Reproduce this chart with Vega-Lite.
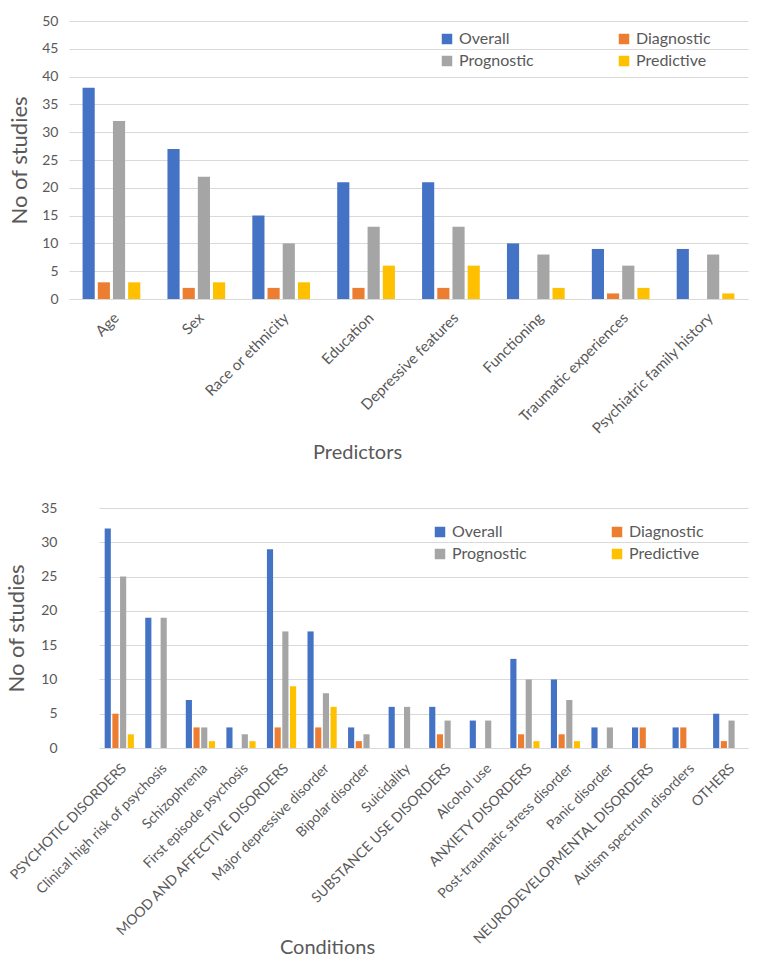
{
  "$schema": "https://vega.github.io/schema/vega-lite/v6.json",
  "padding": {"left": 5, "top": 14, "right": 8, "bottom": 5},
  "background": "#ffffff",
  "config": {
    "font": "Lato",
    "view": {"stroke": null},
    "axis": {"labelColor": "#595959", "titleColor": "#595959", "labelFont": "Lato", "titleFont": "Lato", "titleFontWeight": "normal", "gridColor": "#D9D9D9", "domainColor": "#D9D9D9", "ticks": false},
    "legend": {"labelColor": "#595959", "labelFont": "Lato", "labelFontSize": 16}
  },
  "datasets": {
    "predictors": [
      {"cat": "Age", "type": "Overall", "n": 38}, {"cat": "Age", "type": "Diagnostic", "n": 3}, {"cat": "Age", "type": "Prognostic", "n": 32}, {"cat": "Age", "type": "Predictive", "n": 3},
      {"cat": "Sex", "type": "Overall", "n": 27}, {"cat": "Sex", "type": "Diagnostic", "n": 2}, {"cat": "Sex", "type": "Prognostic", "n": 22}, {"cat": "Sex", "type": "Predictive", "n": 3},
      {"cat": "Race or ethnicity", "type": "Overall", "n": 15}, {"cat": "Race or ethnicity", "type": "Diagnostic", "n": 2}, {"cat": "Race or ethnicity", "type": "Prognostic", "n": 10}, {"cat": "Race or ethnicity", "type": "Predictive", "n": 3},
      {"cat": "Education", "type": "Overall", "n": 21}, {"cat": "Education", "type": "Diagnostic", "n": 2}, {"cat": "Education", "type": "Prognostic", "n": 13}, {"cat": "Education", "type": "Predictive", "n": 6},
      {"cat": "Depressive features", "type": "Overall", "n": 21}, {"cat": "Depressive features", "type": "Diagnostic", "n": 2}, {"cat": "Depressive features", "type": "Prognostic", "n": 13}, {"cat": "Depressive features", "type": "Predictive", "n": 6},
      {"cat": "Functioning", "type": "Overall", "n": 10}, {"cat": "Functioning", "type": "Diagnostic", "n": 0}, {"cat": "Functioning", "type": "Prognostic", "n": 8}, {"cat": "Functioning", "type": "Predictive", "n": 2},
      {"cat": "Traumatic experiences", "type": "Overall", "n": 9}, {"cat": "Traumatic experiences", "type": "Diagnostic", "n": 1}, {"cat": "Traumatic experiences", "type": "Prognostic", "n": 6}, {"cat": "Traumatic experiences", "type": "Predictive", "n": 2},
      {"cat": "Psychiatric family history", "type": "Overall", "n": 9}, {"cat": "Psychiatric family history", "type": "Diagnostic", "n": 0}, {"cat": "Psychiatric family history", "type": "Prognostic", "n": 8}, {"cat": "Psychiatric family history", "type": "Predictive", "n": 1}
    ],
    "conditions": [
      {"cat": "PSYCHOTIC DISORDERS", "type": "Overall", "n": 32}, {"cat": "PSYCHOTIC DISORDERS", "type": "Diagnostic", "n": 5}, {"cat": "PSYCHOTIC DISORDERS", "type": "Prognostic", "n": 25}, {"cat": "PSYCHOTIC DISORDERS", "type": "Predictive", "n": 2},
      {"cat": "Clinical high risk of psychosis", "type": "Overall", "n": 19}, {"cat": "Clinical high risk of psychosis", "type": "Diagnostic", "n": 0}, {"cat": "Clinical high risk of psychosis", "type": "Prognostic", "n": 19}, {"cat": "Clinical high risk of psychosis", "type": "Predictive", "n": 0},
      {"cat": "Schizophrenia", "type": "Overall", "n": 7}, {"cat": "Schizophrenia", "type": "Diagnostic", "n": 3}, {"cat": "Schizophrenia", "type": "Prognostic", "n": 3}, {"cat": "Schizophrenia", "type": "Predictive", "n": 1},
      {"cat": "First episode psychosis", "type": "Overall", "n": 3}, {"cat": "First episode psychosis", "type": "Diagnostic", "n": 0}, {"cat": "First episode psychosis", "type": "Prognostic", "n": 2}, {"cat": "First episode psychosis", "type": "Predictive", "n": 1},
      {"cat": "MOOD AND AFFECTIVE DISORDERS", "type": "Overall", "n": 29}, {"cat": "MOOD AND AFFECTIVE DISORDERS", "type": "Diagnostic", "n": 3}, {"cat": "MOOD AND AFFECTIVE DISORDERS", "type": "Prognostic", "n": 17}, {"cat": "MOOD AND AFFECTIVE DISORDERS", "type": "Predictive", "n": 9},
      {"cat": "Major depressive disorder", "type": "Overall", "n": 17}, {"cat": "Major depressive disorder", "type": "Diagnostic", "n": 3}, {"cat": "Major depressive disorder", "type": "Prognostic", "n": 8}, {"cat": "Major depressive disorder", "type": "Predictive", "n": 6},
      {"cat": "Bipolar disorder", "type": "Overall", "n": 3}, {"cat": "Bipolar disorder", "type": "Diagnostic", "n": 1}, {"cat": "Bipolar disorder", "type": "Prognostic", "n": 2}, {"cat": "Bipolar disorder", "type": "Predictive", "n": 0},
      {"cat": "Suicidality", "type": "Overall", "n": 6}, {"cat": "Suicidality", "type": "Diagnostic", "n": 0}, {"cat": "Suicidality", "type": "Prognostic", "n": 6}, {"cat": "Suicidality", "type": "Predictive", "n": 0},
      {"cat": "SUBSTANCE USE DISORDERS", "type": "Overall", "n": 6}, {"cat": "SUBSTANCE USE DISORDERS", "type": "Diagnostic", "n": 2}, {"cat": "SUBSTANCE USE DISORDERS", "type": "Prognostic", "n": 4}, {"cat": "SUBSTANCE USE DISORDERS", "type": "Predictive", "n": 0},
      {"cat": "Alcohol use", "type": "Overall", "n": 4}, {"cat": "Alcohol use", "type": "Diagnostic", "n": 0}, {"cat": "Alcohol use", "type": "Prognostic", "n": 4}, {"cat": "Alcohol use", "type": "Predictive", "n": 0},
      {"cat": "ANXIETY DISORDERS", "type": "Overall", "n": 13}, {"cat": "ANXIETY DISORDERS", "type": "Diagnostic", "n": 2}, {"cat": "ANXIETY DISORDERS", "type": "Prognostic", "n": 10}, {"cat": "ANXIETY DISORDERS", "type": "Predictive", "n": 1},
      {"cat": "Post-traumatic stress disorder", "type": "Overall", "n": 10}, {"cat": "Post-traumatic stress disorder", "type": "Diagnostic", "n": 2}, {"cat": "Post-traumatic stress disorder", "type": "Prognostic", "n": 7}, {"cat": "Post-traumatic stress disorder", "type": "Predictive", "n": 1},
      {"cat": "Panic disorder", "type": "Overall", "n": 3}, {"cat": "Panic disorder", "type": "Diagnostic", "n": 0}, {"cat": "Panic disorder", "type": "Prognostic", "n": 3}, {"cat": "Panic disorder", "type": "Predictive", "n": 0},
      {"cat": "NEURODEVELOPMENTAL DISORDERS", "type": "Overall", "n": 3}, {"cat": "NEURODEVELOPMENTAL DISORDERS", "type": "Diagnostic", "n": 3}, {"cat": "NEURODEVELOPMENTAL DISORDERS", "type": "Prognostic", "n": 0}, {"cat": "NEURODEVELOPMENTAL DISORDERS", "type": "Predictive", "n": 0},
      {"cat": "Autism spectrum disorders", "type": "Overall", "n": 3}, {"cat": "Autism spectrum disorders", "type": "Diagnostic", "n": 3}, {"cat": "Autism spectrum disorders", "type": "Prognostic", "n": 0}, {"cat": "Autism spectrum disorders", "type": "Predictive", "n": 0},
      {"cat": "OTHERS", "type": "Overall", "n": 5}, {"cat": "OTHERS", "type": "Diagnostic", "n": 1}, {"cat": "OTHERS", "type": "Prognostic", "n": 4}, {"cat": "OTHERS", "type": "Predictive", "n": 0}
    ]
  },
  "resolve": {"legend": {"color": "independent"}, "scale": {"color": "independent", "x": "independent", "y": "independent", "xOffset": "independent"}},
  "spacing": 38,
  "vconcat": [
    {
      "data": {"name": "predictors"},
      "width": 679,
      "height": 278,
      "mark": {"type": "bar"},
      "encoding": {
        "x": {"field": "cat", "type": "nominal", "sort": null,
          "scale": {"paddingInner": 0.32, "paddingOuter": 0.16},
          "axis": {"title": "Predictors", "labelAngle": -45, "labelFontSize": 15, "labelPadding": 11, "titleFontSize": 20, "titlePadding": 6, "titleX": 288, "grid": false, "domainColor": "#D9D9D9"}},
        "xOffset": {"field": "type", "type": "nominal", "sort": ["Overall", "Diagnostic", "Prognostic", "Predictive"], "scale": {"paddingInner": 0.2}},
        "y": {"field": "n", "type": "quantitative",
          "scale": {"domain": [0, 50]},
          "axis": {"title": "No of studies", "values": [0,5,10,15,20,25,30,35,40,45,50], "labelFontSize": 14, "labelPadding": 11, "titleFontSize": 22, "titlePadding": 10, "domain": false}},
        "color": {"field": "type", "type": "nominal",
          "scale": {"domain": ["Overall", "Diagnostic", "Prognostic", "Predictive"], "range": ["#4472C4", "#ED7D31", "#A5A5A5", "#FFC000"]},
          "legend": {"title": null, "values": ["Overall", "Prognostic", "Diagnostic", "Predictive"], "orient": "none", "legendX": 370, "legendY": 10, "columns": 2, "columnPadding": 82, "rowPadding": 6, "symbolType": "square", "symbolSize": 110, "symbolStrokeWidth": 0, "labelOffset": 4}}
      }
    },
    {
      "data": {"name": "conditions"},
      "width": 679,
      "height": 240,
      "mark": {"type": "bar"},
      "encoding": {
        "x": {"field": "cat", "type": "nominal", "sort": null,
          "scale": {"paddingInner": 0.28, "paddingOuter": 0.14, "rangeMin": 30},
          "axis": {"title": "Conditions", "labelAngle": -45, "labelFontSize": 14, "labelPadding": 13, "titleFontSize": 20, "titleX": 258, "titleY": 205, "titleBaseline": "alphabetic", "grid": false, "domainColor": "#D9D9D9", "labelLimit": 300}},
        "xOffset": {"field": "type", "type": "nominal", "sort": ["Overall", "Diagnostic", "Prognostic", "Predictive"], "scale": {"paddingInner": 0.2}},
        "y": {"field": "n", "type": "quantitative",
          "scale": {"domain": [0, 35]},
          "axis": {"title": "No of studies", "values": [0,5,10,15,20,25,30,35], "labelFontSize": 14, "labelPadding": 12, "titleFontSize": 22, "titlePadding": 12, "domain": false}},
        "color": {"field": "type", "type": "nominal",
          "scale": {"domain": ["Overall", "Diagnostic", "Prognostic", "Predictive"], "range": ["#4472C4", "#ED7D31", "#A5A5A5", "#FFC000"]},
          "legend": {"title": null, "values": ["Overall", "Prognostic", "Diagnostic", "Predictive"], "orient": "none", "legendX": 363, "legendY": 16, "columns": 2, "columnPadding": 82, "rowPadding": 6, "symbolType": "square", "symbolSize": 110, "symbolStrokeWidth": 0, "labelOffset": 4}}
      }
    }
  ]
}
